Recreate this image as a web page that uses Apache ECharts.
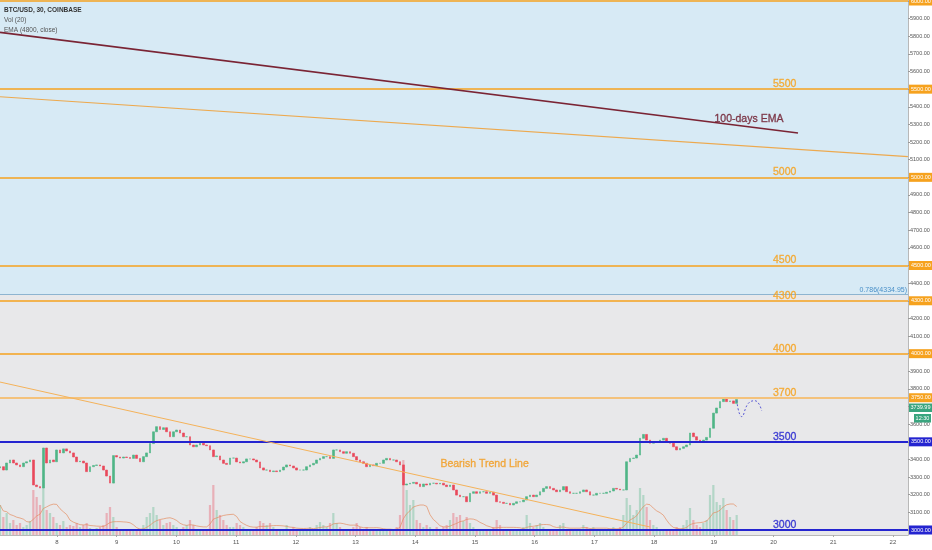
<!DOCTYPE html>
<html><head><meta charset="utf-8">
<script src="https://cdn.jsdelivr.net/npm/echarts@6/dist/echarts.min.js"></script>
<style>html,body{margin:0;padding:0;background:#fff}#c{width:932px;height:550px}</style>
</head><body><div id="c"></div>
<script>
// ---- data ----
const startDay = 7.0454;      // day of first visible candle
const stepDays = 0.055825;    // candle spacing in days
const firstOpen = 3352;
const closes = [
3359,3340,3380,3397,3380,3369,3359,3380,3387,3397,
3255,3246,3238,3465,3380,3397,3387,3454,3437,3460,
3448,3437,3414,3387,3391,3380,3331,3359,3366,3369,
3363,3340,3306,3266,3422,3414,3408,3414,3411,3406,
3425,3406,3387,3416,3437,3490,3557,3586,3570,3580,
3557,3529,3557,3567,3550,3529,3529,3482,3472,3482,
3492,3482,3478,3454,3416,3420,3397,3378,3372,3408,
3408,3386,3380,3387,3403,3403,3397,3386,3352,3340,
3340,3331,3335,3331,3340,3357,3369,3363,3352,3340,
3340,3340,3359,3369,3378,3397,3406,3416,3416,3406,
3454,3454,3444,3435,3444,3435,3416,3397,3387,3378,
3359,3369,3365,3378,3378,3397,3406,3397,3397,3387,
3369,3255,3261,3265,3270,3261,3246,3261,3255,3265,
3265,3261,3265,3255,3246,3255,3227,3198,3189,3189,
3160,3208,3217,3208,3217,3217,3208,3214,3198,3160,
3157,3151,3151,3142,3151,3160,3160,3170,3189,3198,
3189,3198,3217,3236,3246,3236,3227,3217,3227,3246,
3217,3208,3208,3208,3217,3227,3217,3198,3198,3208,
3208,3208,3214,3221,3236,3232,3227,3227,3387,3406,
3408,3425,3520,3542,3510,3492,3501,3501,3510,3520,
3501,3492,3472,3454,3463,3472,3482,3550,3529,3510,
3501,3510,3525,3577,3663,3692,3728,3747,3728,3732,
3718,3739.99
];
const volumes = [
600,360,440,240,300,200,240,160,200,280,
900,760,600,1100,500,440,360,240,200,280,
160,200,180,240,160,200,240,140,120,140,
160,200,440,560,360,160,120,100,120,100,
120,100,120,200,360,440,560,400,300,200,
240,260,200,160,120,160,200,300,200,120,
100,100,120,600,1000,500,400,300,200,160,
160,240,200,160,120,100,120,160,280,240,
200,240,160,120,100,120,200,120,160,120,
120,100,120,160,120,200,260,200,160,240,
440,240,160,120,120,100,160,240,160,120,
160,100,120,120,100,120,100,120,100,160,
400,1500,900,600,700,300,240,160,200,160,
120,160,120,160,200,300,440,360,400,280,
360,240,160,120,100,120,100,120,160,300,
200,120,100,120,100,100,120,160,400,240,
160,200,240,160,120,100,120,100,200,240,
120,100,120,100,120,200,160,120,160,120,
120,100,120,100,160,120,160,400,740,600,
400,500,940,800,560,300,200,160,120,100,
120,100,120,160,120,200,300,540,300,200,
160,240,300,800,1000,660,600,740,500,360,
300,400
];
const volMaPeriod = 8;
const levelPrices = [6000,5500,5000,4500,4300,4000,3750,3500,3000];
const levelTexts  = ['', '5500','5000','4500','4300','4000','3700','3500','3000'];
const blueLevels = [3500, 3000];
const fibLevel = 4334.95;
const fibText = '0.786(4334.95)';
const lastPrice = 3739.99;
const lastTime = '12:30';
const emaLine = [[7.0454, 5822], [20.41, 5251]];
const upperTrend = [[7.0454, 5457], [22.25, 5117]];
const bearishTrend = [[7.0454, 3839], [17.93, 3017]];
const projDays = [19.383, 19.467, 19.578, 19.690, 19.801];
const projPrices = [3735, 3643, 3718, 3733, 3677];
const levelLabelDay = 20.0;
const notes = [
  {text: '100-days EMA', day: 19.02, price: 5302, color: '#6e1a2c'},
  {text: 'Bearish Trend Line', day: 14.43, price: 3346, color: '#f39c1f'}
];
const legendLines = ['BTC/USD, 30, COINBASE', 'Vol (20)', 'EMA (4800, close)'];
const yMin = 2971.6, yMax = 6005.7, xMin = 7.0454, xMax = 22.252;

// ---- build ----
const ORANGE = '#f6a21e', BLUE = '#2424d0', UP = '#4fb586', DOWN = '#e9485b';
const FONT = '"Liberation Sans",Arial,sans-serif';
const candles = closes.map((c, i) => {
  const o = i === 0 ? firstOpen : closes[i - 1];
  return [startDay + i * stepDays, o, c, Math.min(o, c), Math.max(o, c)];
});
const volData = volumes.map((v, i) => ({
  value: [startDay + i * stepDays, v],
  itemStyle: {color: candles[i][2] >= candles[i][1] ? 'rgba(79,181,134,0.35)' : 'rgba(233,72,91,0.35)'}
}));
const volMa = volumes.map((v, i) => {
  const s = volumes.slice(Math.max(0, i - volMaPeriod + 1), i + 1);
  return [startDay + i * stepDays, s.reduce((a, b) => a + b, 0) / s.length];
});
const levelLines = levelPrices.map(p => {
  const isBlue = blueLevels.includes(p);
  const col = isBlue ? BLUE : ORANGE;
  const lc = p === 3750 ? '#f4c27c' : col;
  return {
    yAxis: p,
    lineStyle: {color: lc, width: p === 3750 ? 2.2 : (isBlue ? 2 : 1.6), type: 'solid'},
    label: {show: true, position: 'end', distance: 1, formatter: p.toFixed(2),
      backgroundColor: col, color: '#fff', fontSize: 5.5, padding: [1.5, 2], fontFamily: FONT}
  };
});
levelLines.push({
  yAxis: fibLevel,
  lineStyle: {color: '#8db4d0', width: 1, type: 'solid'},
  label: {show: true, position: 'insideEndTop', distance: 1, formatter: fibText,
    color: '#4a90c8', fontSize: 7, fontFamily: FONT}
});
const levelLabelData = levelPrices.map((p, i) => {
  const c = blueLevels.includes(p) ? BLUE : ORANGE;
  return {value: [levelLabelDay, p], name: levelTexts[i],
    label: {color: c, textBorderColor: c, textBorderWidth: 0.35}};
}).filter(d => d.name);
const noteData = notes.map(n => ({value: [n.day, n.price], name: n.text,
  label: {color: n.color, textBorderColor: n.color, textBorderWidth: 0.35}}));

const chart = echarts.init(document.getElementById('c'), null, {renderer: 'canvas'});
const option = {
  animation: false,
  backgroundColor: '#fff',
  grid: {left: 0, right: 24, top: 0, bottom: 15, containLabel: false, outerBoundsMode: 'none'},
  xAxis: {
    type: 'value', min: xMin, max: xMax, splitNumber: 15, minInterval: 1, maxInterval: 1,
    axisLine: {show: true, lineStyle: {color: '#b8b8b8'}},
    axisTick: {show: true, length: 2, lineStyle: {color: '#aaa'}},
    axisLabel: {fontSize: 6, color: '#555', margin: 4, fontFamily: FONT,
      showMinLabel: false, showMaxLabel: false,
      formatter: v => (Math.abs(v - Math.round(v)) < 1e-6 ? String(Math.round(v)) : '')},
    splitLine: {show: true, lineStyle: {color: 'rgba(100,130,160,0.24)', width: 1}}
  },
  yAxis: [{
    type: 'value', position: 'right', min: yMin, max: yMax, splitNumber: 30,
    minInterval: 100, maxInterval: 100,
    axisLine: {show: true, lineStyle: {color: '#b8b8b8'}},
    axisTick: {show: true, length: 2, lineStyle: {color: '#999'}},
    axisLabel: {fontSize: 5.5, color: '#555', margin: 2, fontFamily: FONT,
      showMinLabel: false, showMaxLabel: false, formatter: v => v.toFixed(2)},
    splitLine: {show: true, lineStyle: {color: 'rgba(100,130,160,0.13)', width: 1}}
  }, {
    type: 'value', min: 0, max: 10700, show: false, splitLine: {show: false}
  }],
  series: [
    {
      name: 'bg', type: 'line', z: -1, data: [[startDay, 3000]], symbol: 'none',
      lineStyle: {opacity: 0}, silent: true,
      markArea: {silent: true, data: [
        [{yAxis: fibLevel, itemStyle: {color: '#d7eaf5'}}, {yAxis: yMax}],
        [{yAxis: yMin, itemStyle: {color: '#e8e8ea'}}, {yAxis: fibLevel}]
      ]}
    },
    {
      name: 'Vol', type: 'bar', xAxisIndex: 0, yAxisIndex: 1, data: volData, barWidth: 2.2, z: 2
    },
    {
      name: 'VolMA', type: 'line', yAxisIndex: 1, data: volMa, symbol: 'none', z: 3,
      lineStyle: {color: '#e58a5c', width: 0.8, opacity: 0.85}
    },
    {
      name: 'BTC', type: 'candlestick', data: candles, z: 4,
      dimensions: ['day', 'open', 'close', 'low', 'high'],
      encode: {x: 0, y: [1, 2, 3, 4]}, barWidth: 2.2,
      itemStyle: {color: UP, color0: DOWN, borderColor: UP, borderColor0: DOWN, borderWidth: 0.6}
    },
    {
      name: 'EMA', type: 'line', data: emaLine, symbol: 'none', z: 5,
      lineStyle: {color: '#7a2434', width: 1.6}
    },
    {
      name: 'upperTrend', type: 'line', data: upperTrend, symbol: 'none', z: 5,
      lineStyle: {color: '#eda94e', width: 1.2}
    },
    {
      name: 'bearishTrend', type: 'line', data: bearishTrend, symbol: 'none', z: 5,
      lineStyle: {color: '#f4b25a', width: 1}
    },
    {
      name: 'projection', type: 'line', data: projDays.map((d, i) => [d, projPrices[i]]),
      smooth: 0.5, symbol: 'none', z: 5,
      lineStyle: {color: '#5a5ad6', width: 1, type: [2, 2]}
    },
    {
      name: 'levels', type: 'line', data: [], symbol: 'none', z: 6,
      markLine: {silent: true, symbol: ['none', 'none'], data: levelLines}
    },
    {
      name: 'levelLabels', type: 'scatter', data: levelLabelData.concat(noteData), symbolSize: 1, z: 7,
      itemStyle: {color: 'rgba(0,0,0,0)'}, silent: true,
      labelLayout: {hideOverlap: false},
      label: {show: true, formatter: p => p.name, position: [0, 1], align: 'left', verticalAlign: 'bottom',
        fontSize: 10.5, fontFamily: FONT}
    }
  ]
};
chart.setOption(option);
// legend texts and last price boxes on the price scale
const py = chart.convertToPixel({yAxisIndex: 0}, lastPrice);
const graphics = legendLines.map((t, i) => ({
  type: 'text', z: 100,
  style: {x: 4, y: 10 + i * 10, text: t, fill: i === 0 ? '#333' : '#555',
    font: (i === 0 ? 'bold ' : '') + '6.5px ' + FONT, verticalAlign: 'middle'}
})).concat([
  {type: 'rect', shape: {x: 909, y: py + 4, width: 23, height: 8.5}, style: {fill: '#3aa57f'}, z: 100},
  {type: 'text', style: {x: 920.5, y: py + 8.3, text: lastPrice.toFixed(2), fill: '#fff',
    font: '5.5px ' + FONT, align: 'center', verticalAlign: 'middle'}, z: 101},
  {type: 'rect', shape: {x: 914, y: py + 14.5, width: 17, height: 8.5}, style: {fill: '#3aa57f'}, z: 100},
  {type: 'text', style: {x: 922.5, y: py + 18.8, text: lastTime, fill: '#fff',
    font: '5.5px ' + FONT, align: 'center', verticalAlign: 'middle'}, z: 101}
]);
chart.setOption({graphic: graphics});
</script></body></html>
